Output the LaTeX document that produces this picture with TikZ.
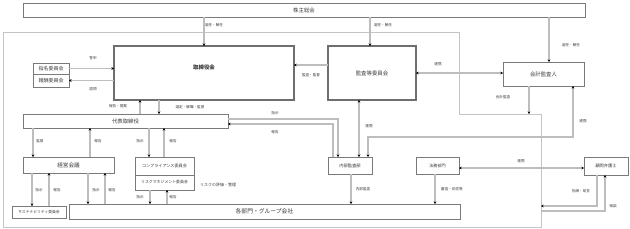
\documentclass[tikz,border=0pt]{standalone}
\usepackage{fontspec}
\setmainfont{Noto Sans CJK JP}
\usetikzlibrary{arrows.meta}
\definecolor{boxc}{HTML}{7A7A7A}
\definecolor{linec}{HTML}{BDBDBD}
\definecolor{framec}{HTML}{C4C4C4}
\definecolor{txtc}{HTML}{3A3A3A}
\newcommand\fs[1]{\fontsize{#1}{#1}\selectfont}
\newcommand\bx[7]{\node[#7, minimum width={#4pt-#2pt}, minimum height={#5pt-#3pt}, anchor=north west] (#1) at (#2,#3) {#6};}
\begin{document}
\begin{tikzpicture}[x=1pt,y=-1pt,
  box/.style={draw=boxc, line width=0.7pt, fill=white, inner sep=0pt, outer sep=0pt, text=txtc, font=\fs{5.4}},
  thickbox/.style={box, line width=1.1pt, draw=boxc!90!black},
  conn/.style={draw=linec, line width=1.1pt},
  >={Stealth[length=2.6pt,width=2.6pt,color=black]},
  lbl/.style={font=\fs{3.6}, text=txtc, inner sep=0pt}]
\useasboundingbox (0,0) rectangle (630,228);
% company frame
\draw[framec, line width=0.8pt] (3,32) -- (459,32) -- (459,114) -- (541,114) -- (541,227) -- (3,227) -- cycle;
\coordinate (frA) at (459,114);
\coordinate (frB) at (541,206);
\coordinate (frC) at (541,211);
% boxes
\bx{kabu}{23}{3}{585}{17}{株主総会}{box}
\bx{tori}{114}{46}{294}{100}{}{thickbox, label={[yshift=6pt, font=\fs{5.4}\bfseries, text=txtc]center:取締役会}}
\bx{kansa}{328}{46}{416}{100}{監査等委員会}{thickbox}
\bx{kaikei}{503}{62}{584}{86}{会計監査人}{box}
\bx{nomi}{33}{63}{69}{74}{指名委員会}{box, font=\fs{5}}
\bx{hoshu}{33}{74}{69}{87}{報酬委員会}{box, font=\fs{5}}
\bx{daihyo}{23}{114}{228}{128}{代表取締役}{box}
\bx{keiei}{23}{157}{114}{173}{経営会議}{box, font=\fs{5.6}}
\bx{compl}{135}{157}{194}{175}{コンプライアンス委員会}{box, font=\fs{4.1}}
\bx{risk}{135}{175}{194}{190}{リスクマネジメント委員会}{box, font=\fs{3.9}}
\bx{naibu}{328}{157}{372}{174}{内部監査部}{box, font=\fs{4.3}}
\bx{homu}{416}{157}{459}{174}{法務部門}{box, font=\fs{4.1}}
\bx{komon}{584}{157}{628}{175}{顧問弁護士}{box, font=\fs{4.2}}
\bx{sus}{12}{206}{66}{218}{サステナビリティ委員会}{box, font=\fs{3.8}}
\bx{kaku}{69}{204}{460}{219}{各部門・グループ会社}{box, font=\fs{5.8}}
% connectors
\draw[conn,->] (kabu.south -| tori.north) -- (tori.north);
\draw[conn,->] (kabu.south -| 370,0) -- (kansa.north -| 370,0);
\draw[conn,->] (kabu.south -| 549,0) -- (kaikei.north -| 549,0);
\draw[conn,->] (nomi.east) -- (nomi.east -| tori.west);
\draw[conn,->] (hoshu.east -| tori.west) -- (hoshu.east);
\draw[conn,->] (kansa.west |- 0,65) -- (tori.east |- 0,65);
\draw[conn,<->] (kansa.east) -- (kansa.east -| kaikei.west);
\draw[conn,->] (daihyo.north -| 140,0) -- (tori.south -| 140,0);
\draw[conn,->] (tori.south -| 159,0) -- (daihyo.north -| 159,0);
\draw[conn,->] (kaikei.south -| 529,0) -- (529,0 |- frA);
\draw[conn,<->] (kaikei.south -| 573,0) -- (573,137) -- (368,137) -- (naibu.north -| 368,0);
\draw[conn,<->] (kansa.south -| 359,0) -- (naibu.north -| 359,0);
\draw[conn,->] (daihyo.east |- 0,119) -| (naibu.north -| 338,0);
\draw[conn,->] (naibu.north -| 333,0) |- (daihyo.east |- 0,124);
\draw[conn,->] (daihyo.south -| 33,0) -- (keiei.north -| 33,0);
\draw[conn,->] (keiei.north -| 90,0) -- (daihyo.south -| 90,0);
\draw[conn,->] (daihyo.south -| 149,0) -- (compl.north -| 149,0);
\draw[conn,->] (compl.north -| 164,0) -- (daihyo.south -| 164,0);
\draw[conn,->] (keiei.south -| 32,0) -- (sus.north -| 32,0);
\draw[conn,->] (sus.north -| 49,0) -- (keiei.south -| 49,0);
\draw[conn,->] (keiei.south -| 88,0) -- (kaku.north -| 88,0);
\draw[conn,->] (kaku.north -| 105,0) -- (keiei.south -| 105,0);
\draw[conn,->] (risk.south -| 150,0) -- (kaku.north -| 150,0);
\draw[conn,->] (kaku.north -| 167,0) -- (risk.south -| 167,0);
\draw[conn,->] (naibu.south -| 351,0) -- (kaku.north -| 351,0);
\draw[conn,->] (homu.south -| 435,0) -- (kaku.north -| 435,0);
\draw[conn,<->] (homu.east |- 0,168) -- (komon.west |- 0,168);
\draw[conn,->] (komon.south -| 597,0) |- (frB);
\draw[conn,->] (frC) -| (komon.south -| 605,0);
% labels
\node[lbl] at (214,25) {選任・解任};
\node[lbl] at (383,25) {選任・解任};
\node[lbl] at (571,45) {選任・解任};
\node[lbl] at (93,58) {答申};
\node[lbl] at (93,89) {諮問};
\node[lbl] at (311,75) {監査・監督};
\node[lbl] at (438,64) {連携};
\node[lbl] at (118,106) {報告・提案};
\node[lbl] at (190,107) {選定・解職・監督};
\node[lbl] at (503,97) {会計監査};
\node[lbl] at (583,121) {連携};
\node[lbl] at (369,126) {連携};
\node[lbl] at (275,113) {指示};
\node[lbl] at (275,132) {報告};
\node[lbl] at (40,141) {監督};
\node[lbl] at (98,141) {報告};
\node[lbl] at (140,141) {指示};
\node[lbl] at (173,141) {報告};
\node[lbl] at (39,190) {指示};
\node[lbl] at (57,190) {報告};
\node[lbl] at (96,190) {指示};
\node[lbl] at (112,190) {報告};
\node[lbl, font=\fs{4}] at (218,185) {リスクの評価・管理};
\node[lbl] at (140,197) {指示};
\node[lbl] at (173,197) {報告};
\node[lbl] at (363,189) {内部監査};
\node[lbl] at (452,189) {審査・助言等};
\node[lbl] at (521,161) {連携};
\node[lbl] at (581,191) {指導・助言};
\node[lbl] at (613,206) {相談};
\end{tikzpicture}
\end{document}
